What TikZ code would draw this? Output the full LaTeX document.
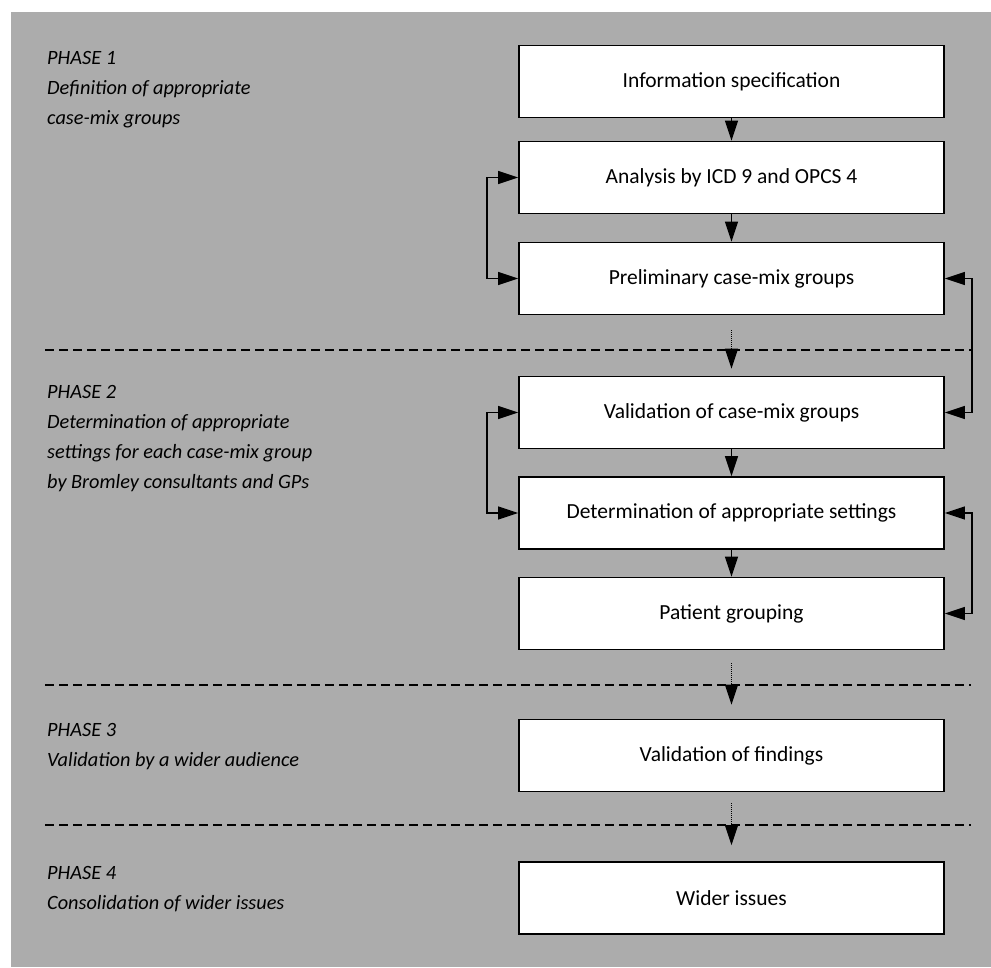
\documentclass[tikz,border=0pt]{standalone}
\usepackage{fontspec}
\setmainfont{Carlito}
\usetikzlibrary{arrows.meta}
\definecolor{bggray}{RGB}{172,172,172}
\begin{document}
\begin{tikzpicture}[x=1pt,y=-1pt,
  box/.style={draw=black, line width=1.8pt, fill=white, minimum width=425pt, minimum height=72pt, inner sep=0pt, font=\fontsize{21.5}{25}\selectfont},
  phase/.style={anchor=north west, inner sep=0pt, align=left, font=\fontsize{20.3}{30}\selectfont\itshape},
  flow/.style={line width=1.3pt, -{Triangle[length=20pt,width=13pt]}},
  cross/.style={line width=1pt, densely dotted, -{Triangle[length=20pt,width=13pt]}},
  fb/.style={line width=1.3pt, {Triangle[length=20pt,width=13pt]}-{Triangle[length=20pt,width=13pt]}},
  sep/.style={line width=1.5pt, dash pattern=on 9pt off 5pt}
]
\useasboundingbox (0,0) rectangle (991,967);
\fill[bggray] (11,12) rectangle (991,967);

% separators
\draw[sep] (45,350) -- (971,350);
\draw[sep] (45,685) -- (971,685);
\draw[sep] (45,825) -- (971,825);

% boxes
\node[box] (b1) at (731.5,81.5) {Information specification};
\node[box] (b2) at (731.5,177.5) {Analysis by ICD 9 and OPCS 4};
\node[box] (b3) at (731.5,278.5) {Preliminary case-mix groups};
\node[box] (b4) at (731.5,412.5) {Validation of case-mix groups};
\node[box] (b5) at (731.5,513) {Determination of appropriate settings};
\node[box] (b6) at (731.5,613.5) {Patient grouping};
\node[box] (b7) at (731.5,755.5) {Validation of findings};
\node[box] (b8) at (731.5,898) {Wider issues};

% phase labels
\node[phase] (p1) at (47,51) {PHASE 1\\Definition of appropriate\\case-mix groups};
\node[phase] (p2) at (47,385) {PHASE 2\\Determination of appropriate\\settings for each case-mix group\\by Bromley consultants and GPs};
\node[phase] (p3) at (47,723) {PHASE 3\\Validation by a wider audience};
\node[phase] (p4) at (47,866) {PHASE 4\\Consolidation of wider issues};

% flow arrows
\draw[flow] (b1.south) -- (b2.north);
\draw[flow] (b2.south) -- (b3.north);
\draw[flow] (b4.south) -- (b5.north);
\draw[flow] (b5.south) -- (b6.north);

% arrows crossing phase boundaries
\draw[cross, shorten <=15pt, shorten >=7pt] (b3.south) -- (b4.north);
\draw[cross, shorten <=13pt, shorten >=14pt] (b6.south) -- (b7.north);
\draw[cross, shorten <=11pt, shorten >=16pt] (b7.south) -- (b8.north);

% feedback loops
\draw[fb] (b2.west) -- ++(-31,0) |- (b3.west);
\draw[fb] (b4.west) -- ++(-31,0) |- (b5.west);
\draw[fb] (b3.east) -- ++(27,0) |- (b4.east);
\draw[fb] (b5.east) -- ++(27,0) |- (b6.east);
\end{tikzpicture}
\end{document}
